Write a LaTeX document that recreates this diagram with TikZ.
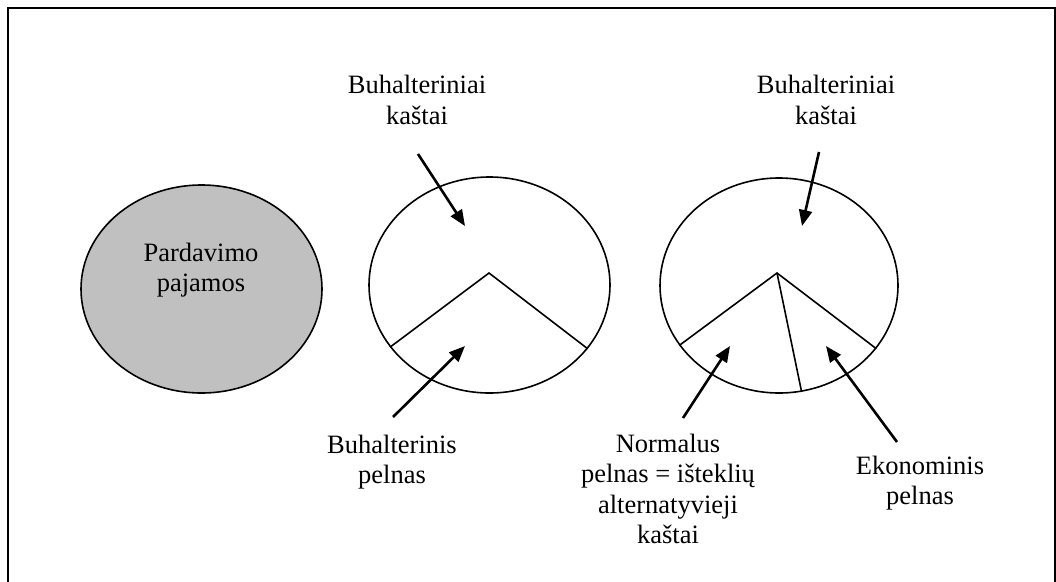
\documentclass[tikz,border=0pt]{standalone}
\usepackage{fontspec}
\setmainfont{Liberation Serif}
\usetikzlibrary{shapes.geometric,arrows.meta}
\definecolor{revgray}{RGB}{192,192,192}
\tikzset{
  label/.style={align=center,inner sep=0pt,font=\fontsize{26.5}{30.5}\selectfont},
  pie/.style={ellipse,draw,line width=1.6pt,inner sep=0pt},
  cut/.style={line width=1.6pt},
  pointer/.style={line width=2.6pt,-{Triangle[length=16pt,width=13pt]}}
}
\begin{document}
\begin{tikzpicture}[x=1pt,y=-1pt]
  \useasboundingbox (0,0) rectangle (1056,581);
  % outer frame (runs off the bottom edge)
  \draw[line width=2pt] (7.5,600) -- (7.5,7.5) -- (1055,7.5) -- (1055,600);

  % sales revenue
  \node[pie,fill=revgray,minimum width=241pt,minimum height=208pt] (rev) at (201.5,289) {};
  \node[label] (revtxt) at (201,270) {Pardavimo\\pajamos};

  % accounting view
  \node[pie,minimum width=241pt,minimum height=216pt] (acc) at (489.5,285) {};
  \coordinate (accapex) at (489,273);
  \draw[cut] (acc.212) -- (accapex) -- (acc.327.5);

  % economic view
  \node[pie,minimum width=238pt,minimum height=215pt] (eco) at (779,285.5) {};
  \coordinate (ecoapex) at (777,273);
  \draw[cut] (eco.211.7) -- (ecoapex) -- (eco.327.5);
  \draw[cut] (ecoapex) -- (eco.282);

  % labels
  \node[label] (costA) at (417,100) {Buhalteriniai\\kaštai};
  \node[label] (costB) at (826,100) {Buhalteriniai\\kaštai};
  \node[label] (accprofit) at (392,462) {Buhalterinis\\pelnas};
  \node[label] (normprofit) at (668,489) {Normalus\\pelnas = išteklių\\alternatyvieji\\kaštai};
  \node[label] (ecoprofit) at (920,483) {Ekonominis\\pelnas};

  % arrows
  \coordinate (a1s) at (418,154); \coordinate (a1e) at (465,226);
  \coordinate (a2s) at (393,417); \coordinate (a2e) at (465,346);
  \coordinate (b1s) at (819,152); \coordinate (b1e) at (802,226);
  \coordinate (b2s) at (683,418); \coordinate (b2e) at (730,346);
  \coordinate (b3s) at (897,442); \coordinate (b3e) at (826,346);
  \draw[pointer] (a1s) -- (a1e);
  \draw[pointer] (a2s) -- (a2e);
  \draw[pointer] (b1s) -- (b1e);
  \draw[pointer] (b2s) -- (b2e);
  \draw[pointer] (b3s) -- (b3e);
\end{tikzpicture}
\end{document}
